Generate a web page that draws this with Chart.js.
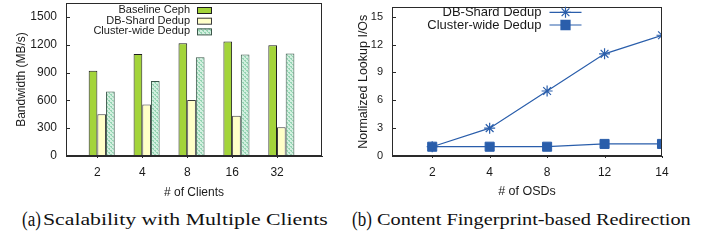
<!DOCTYPE html>
<html>
<head>
<meta charset="utf-8">
<script src="https://cdn.jsdelivr.net/npm/chart.js@4.4.1/dist/chart.umd.min.js"></script>
<style>
  body { margin: 0; width: 702px; height: 242px; background: #fff; position: relative; overflow: hidden; }
  canvas { position: absolute; top: 0; }
  #bw { left: 0; }
  #io { left: 351px; }
  .cap { position: absolute; top: 211px; font-family: 'Liberation Serif', 'Times New Roman', serif; font-size: 16px; color: #111; white-space: nowrap; transform-origin: 0 0; }
  .lab { font-size: 20px; top: 208px; transform: scaleX(0.85); }
</style>
</head>
<body>
<canvas id="bw" width="351" height="200"></canvas>
<canvas id="io" width="351" height="200"></canvas>
<div class="cap lab" style="left:22px">(a)</div>
<div class="cap" style="left:43px; transform: scaleX(1.36)">Scalability with Multiple Clients</div>
<div class="cap lab" style="left:352px">(b)</div>
<div class="cap" style="left:377px; transform: scaleX(1.27)">Content Fingerprint-based Redirection</div>
<script>
// (a) bandwidth per number of clients
const clients = ['2', '4', '8', '16', '32'];
const bwTicks = [0, 300, 600, 900, 1200, 1500];
const baselineCeph = [920, 1100, 1215, 1235, 1195];
const dbShardBw = [450, 555, 605, 435, 310];
const clusterWideBw = [695, 810, 1065, 1095, 1105];

// (b) lookup I/Os per number of OSDs
const osds = ['2', '4', '8', '12', '14'];
const ioTicks = [0, 3, 6, 9, 12, 15];
const dbShardIOs = [1, 3, 7, 11, 13];
const clusterWideIOs = [1, 1, 1, 1.3, 1.3];

Chart.defaults.font.family = "'Liberation Sans', Arial, sans-serif";
Chart.defaults.color = '#1a1a1a';

const blue = '#2a5eab';
const axisColor = '#2a2a2a';

// dotted fill like the gnuplot pattern
function dotPattern() {
    const c = document.createElement('canvas');
    c.width = 4; c.height = 4;
    const g = c.getContext('2d');
    g.fillStyle = '#d2efdf';
    g.fillRect(0, 0, 4, 4);
    g.fillStyle = '#94d4b2';
    g.fillRect(0, 0, 2, 1);
    g.fillRect(2, 2, 2, 1);
    g.fillRect(1, 1, 1, 1);
    g.fillRect(3, 3, 1, 1);
    return g.createPattern(c, 'repeat');
}

// plot box, inward ticks and a gnuplot style key (text right aligned, sample on the right)
const deco = {
    id: 'deco',
    afterDraw(chart, args, opts) {
        const { ctx, chartArea: a, scales } = chart;
        ctx.save();
        ctx.fillStyle = axisColor;
        const l = Math.round(a.left), t = Math.round(a.top);
        const r = Math.round(a.right), b = Math.round(a.bottom);
        ctx.fillRect(l, t, r - l, 1);
        ctx.fillRect(l, b - 1, r - l, 1);
        ctx.fillRect(l, t, 1, b - t);
        ctx.fillRect(r - 1, t, 1, b - t);
        scales.y.ticks.forEach(tk => {
            const y = Math.round(scales.y.getPixelForValue(tk.value));
            ctx.fillRect(l, y, 4, 1);
        });
        scales.x.ticks.forEach(tk => {
            const x = Math.round(scales.x.getPixelForValue(tk.value));
            ctx.fillRect(x, b, 1, 2);
        });

        ctx.font = opts.size + "px 'Liberation Sans', Arial, sans-serif";
        ctx.textAlign = 'right';
        ctx.textBaseline = 'middle';
        chart.data.datasets.forEach((ds, i) => {
            const y = opts.y + i * opts.gap;
            ctx.fillStyle = '#1a1a1a';
            ctx.fillText(ds.label, opts.x, y);
            const sx = opts.x + opts.pad;
            if (opts.type === 'box') {
                ctx.fillStyle = ds.backgroundColor;
                ctx.fillRect(sx, y - 3, opts.w, 6);
                ctx.strokeStyle = ds.borderColor;
                ctx.lineWidth = 1;
                ctx.strokeRect(sx + 0.5, y - 2.5, opts.w, 6);
            } else {
                ctx.strokeStyle = ds.borderColor;
                ctx.lineWidth = 1.2;
                ctx.beginPath();
                ctx.moveTo(sx, y); ctx.lineTo(sx + opts.w, y);
                ctx.stroke();
                ctx.fillStyle = ds.backgroundColor;
                Chart.helpers.drawPoint(ctx, {
                    pointStyle: ds.pointStyle, radius: ds.pointRadius, rotation: 0,
                    borderWidth: ds.pointBorderWidth
                }, sx + opts.w / 2, y);
            }
        });
        ctx.restore();
    }
};

const indexTicks = n => s => { s.ticks = Array.from({ length: n }, (_, i) => ({ value: i })); };
const listTicks = list => s => { s.ticks = list.map(v => ({ value: v })); };
const fitX = s => { s.height = 44; s.paddingLeft = 0; s.paddingRight = 0; };
const fitY = w => s => { s.width = w; s.paddingTop = 0; s.paddingBottom = 0; };

new Chart(document.getElementById('bw'), {
    type: 'bar',
    data: {
        datasets: [
            { label: 'Baseline Ceph', data: baselineCeph.map((v, i) => ({ x: i + 0.095, y: v })),
              backgroundColor: '#a3d43a', borderColor: '#1e1e1e' },
            { label: 'DB-Shard Dedup', data: dbShardBw.map((v, i) => ({ x: i + 0.095, y: v })),
              backgroundColor: '#ffffc8', borderColor: '#3a3a3a' },
            { label: 'Cluster-wide Dedup', data: clusterWideBw.map((v, i) => ({ x: i + 0.095, y: v })),
              backgroundColor: dotPattern(), borderColor: '#3b574a' }
        ]
    },
    options: {
        responsive: false, animation: false,
        layout: { padding: { top: 3, right: 29, left: 0, bottom: 0 } },
        datasets: { bar: { borderWidth: 1, borderSkipped: false, categoryPercentage: 0.58, barPercentage: 1 } },
        plugins: {
            legend: { display: false }, tooltip: { enabled: false },
            deco: { x: 190, y: 10, gap: 10.7, size: 11, pad: 7, w: 14, type: 'box' }
        },
        scales: {
            x: {
                type: 'linear', min: -0.7, max: 5, offset: false,
                afterBuildTicks: indexTicks(clients.length),
                afterFit: fitX,
                grid: { display: false, drawTicks: false }, border: { display: true, color: axisColor },
                ticks: { padding: 9, autoSkip: false, maxRotation: 0, font: { size: 12 }, callback: v => clients[v] },
                title: { display: true, text: '# of Clients', font: { size: 12 }, padding: { top: 0, bottom: 0.5 } }
            },
            y: {
                min: 0, max: 1650,
                afterBuildTicks: listTicks(bwTicks),
                afterFit: fitY(66),
                grid: { display: false, drawTicks: false }, border: { display: true, color: axisColor },
                ticks: { padding: 9, autoSkip: false, font: { size: 12 }, callback: v => String(v) },
                title: { display: true, text: 'Bandwidth (MB/s)', font: { size: 12 }, padding: { top: 14, bottom: 0 } }
            }
        }
    },
    plugins: [deco]
});

new Chart(document.getElementById('io'), {
    type: 'line',
    data: {
        datasets: [
            { label: 'DB-Shard Dedup', data: dbShardIOs.map((v, i) => ({ x: i, y: v })),
              borderColor: blue, backgroundColor: blue, borderWidth: 1.2,
              pointStyle: 'star', pointRadius: 5.5, pointBorderWidth: 1.2 },
            { label: 'Cluster-wide Dedup', data: clusterWideIOs.map((v, i) => ({ x: i, y: v })),
              borderColor: blue, backgroundColor: blue, borderWidth: 1.2,
              pointStyle: 'rect', pointRadius: 6.4, pointBorderWidth: 1 }
        ]
    },
    options: {
        responsive: false, animation: false,
        layout: { padding: { top: 3, right: 40, left: 0, bottom: 0 } },
        plugins: {
            legend: { display: false }, tooltip: { enabled: false },
            deco: { x: 190.5, y: 12.3, gap: 12.7, size: 13, pad: 8, w: 32, type: 'line' }
        },
        scales: {
            x: {
                type: 'linear', min: -0.7, max: 4, offset: false,
                afterBuildTicks: indexTicks(osds.length),
                afterFit: fitX,
                grid: { display: false, drawTicks: false }, border: { display: true, color: axisColor },
                ticks: { padding: 9, autoSkip: false, maxRotation: 0, font: { size: 12 }, callback: v => osds[v] },
                title: { display: true, text: '# of OSDs', font: { size: 12.5 }, padding: { top: 0, bottom: 0.5 } }
            },
            y: {
                min: 0, max: 16,
                afterBuildTicks: listTicks(ioTicks),
                afterFit: fitY(41),
                grid: { display: false, drawTicks: false }, border: { display: true, color: axisColor },
                ticks: { padding: 9, autoSkip: false, font: { size: 11 } },
                title: { display: true, text: 'Normalized Lookup I/Os', font: { size: 12.5 }, padding: { top: 5, bottom: 0 } }
            }
        }
    },
    plugins: [deco]
});
</script>
</body>
</html>
